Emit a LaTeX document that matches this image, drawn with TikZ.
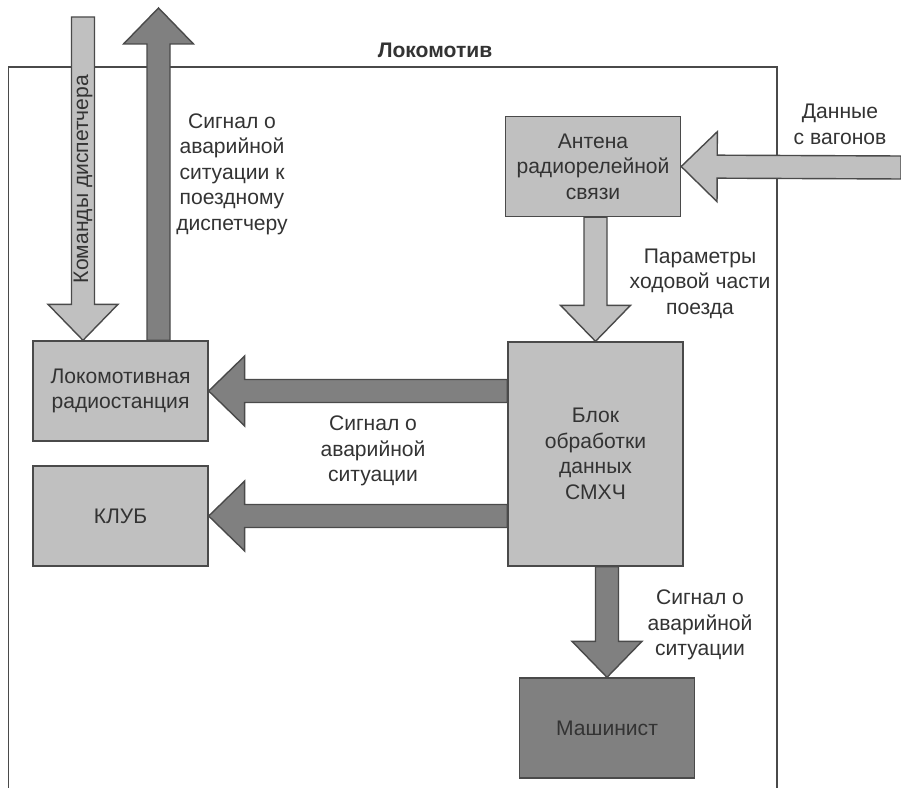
\documentclass[tikz,border=0pt]{standalone}
\usepackage{fontspec}
\setmainfont{Liberation Sans}
\usetikzlibrary{calc}
\definecolor{boxlight}{HTML}{C0C0C0}
\definecolor{sigdark}{HTML}{808080}
\definecolor{edgegray}{HTML}{4A4A4A}
\definecolor{txtgray}{HTML}{333333}

\tikzset{
    block/.style={draw=edgegray, line width=0.8pt, fill=#1, minimum width=3.5cm,
        minimum height=2cm, align=center, inner sep=2pt},
    lbl/.style={align=center},
    blk/.style={draw=edgegray, line width=0.8pt, fill=#1,
        to path={($(\tikztotarget)!\headl!(\tikztostart)$) coordinate (hb)
            ($(\tikztostart)!\shaftw!90:(\tikztotarget)$)
            -- ($(hb)!\shaftw!-90:(\tikztostart)$)
            -- ($(hb)!\headw!-90:(\tikztostart)$)
            -- (\tikztotarget)
            -- ($(hb)!\headw!90:(\tikztostart)$)
            -- ($(hb)!\shaftw!90:(\tikztostart)$)
            -- ($(\tikztostart)!\shaftw!-90:(\tikztotarget)$)
            -- cycle}}
}

\begin{document}
\begin{tikzpicture}[x=0.02cm, y=-0.02cm, font=\fontsize{12}{14.5}\selectfont, text=txtgray]
        \def\shaftw{0.23cm}
        \def\headw{0.70cm}
        \def\headl{0.72cm}
        \useasboundingbox (0,0) rectangle (901,787);
        \draw[edgegray, line width=0.8pt] (8.5,792) -- (8.5,67) -- (777,67) -- (777,792);
        \node[font=\bfseries\fontsize{12}{14.5}\selectfont] (title) at (435,50) {Локомотив};

        \node[block=boxlight] (radio) at (120.5,391) {Локомотивная\\радиостанция};
        \node[block=boxlight] (klub) at (120.5,516) {КЛУБ};
        \node[block=boxlight] (ant) at (593,166.5) {Антена\\радиорелейной\\связи};
        \node[block=boxlight, minimum height=4.48cm] (blok) at (595.5,454) {Блок\\обработки\\данных\\СМХЧ};
        \node[block=sigdark] (mash) at (607,728) {Машинист};

        \coordinate (cmdtop) at (83,17);
        \coordinate (cmdend) at (radio.north -| cmdtop);
        \coordinate (uptop) at (158.5,8);
        \coordinate (upstart) at (radio.north -| uptop);
        \coordinate (datain) at (901,167.5);
        \coordinate (parstart) at (ant.south -| blok.north);
        \coordinate (sig1) at (blok.west |- radio.east);
        \coordinate (sig2) at (blok.west |- klub.east);
        \coordinate (sig3) at (blok.south -| mash.north);

        \draw[blk=boxlight] (cmdtop) to (cmdend);
        \draw[blk=sigdark] (upstart) to (uptop);
        \draw[blk=boxlight] (datain) to (ant.east);
        \draw[blk=boxlight] (parstart) to (blok.north);
        \draw[blk=sigdark] (sig1) to (radio.east);
        \draw[blk=sigdark] (sig2) to (klub.east);
        \draw[blk=sigdark] (sig3) to (mash.north);

        \node[rotate=90] (cmdl) at (83,179) {Команды диспетчера};
        \node[lbl] (upl) at (232,174) {Сигнал о\\аварийной\\ситуации к\\поездному\\диспетчеру};
        \node[lbl] (datal) at (840,124.5) {Данные\\с вагонов};
        \node[lbl] (parl) at (700,283.5) {Параметры\\ходовой части\\поезда};
        \node[lbl] (sigl) at (373,451) {Сигнал о\\аварийной\\ситуации};
        \node[lbl] (mashl) at (700,625) {Сигнал о\\аварийной\\ситуации};
    \end{tikzpicture}
\end{document}
